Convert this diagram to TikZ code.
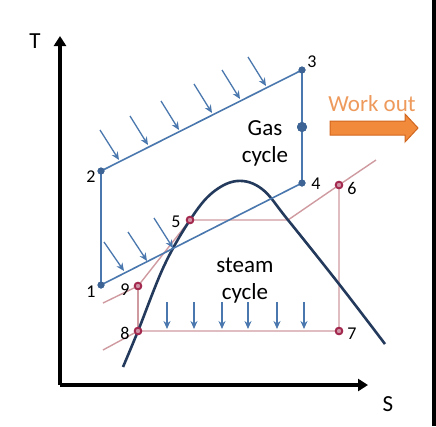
\documentclass[tikz,border=0pt]{standalone}
\usepackage{fontspec}
\setmainfont{Carlito}
\usetikzlibrary{arrows.meta}
\definecolor{gasblue}{HTML}{4A78AE}
\definecolor{gasdot}{HTML}{3D6494}
\definecolor{steampink}{HTML}{CF9AA0}
\definecolor{steamdot}{HTML}{A3294F}
\definecolor{domenavy}{HTML}{243A5C}
\definecolor{workorange}{HTML}{F28A3C}
\definecolor{workedge}{HTML}{D0661E}
\definecolor{worktext}{HTML}{EE9A5C}
\tikzset{
  gasline/.style={gasblue, line width=1.6pt},
  gasarrow/.style={gasblue, line width=1.3pt, -{Stealth[length=8pt,width=7pt]}},
  steamline/.style={steampink, line width=1.4pt},
  gasdotst/.style={circle, fill=gasdot, inner sep=0pt, minimum size=7pt},
  bigdot/.style={circle, fill=gasdot, inner sep=0pt, minimum size=10pt},
  steamdotst/.style={circle, draw=steamdot, fill=steamdot!50!white, line width=1.8pt, inner sep=0pt, minimum size=6.5pt},
  numlab/.style={font=\fontsize{18}{18}\selectfont, text=black, inner sep=1pt},
  biglab/.style={font=\fontsize{23}{27}\selectfont, text=black, align=center},
  axis/.style={black, line width=3.2pt, -{Triangle[length=10pt,width=12pt]}},
}
\begin{document}
\begin{tikzpicture}[x=1pt,y=-1pt]
\useasboundingbox (0,0) rectangle (436,426);
\fill[white] (0,0) rectangle (432,426);
\fill[black] (432,0) rectangle (436,426);
% axes
\coordinate (O) at (60,385);
\coordinate (Ttip) at (60,36);
\coordinate (Stip) at (368,385);
\draw[axis] (O) -- (Ttip);
\draw[axis] (O) -- (Stip);
\node[font=\fontsize{23}{23}\selectfont] (T) at (35,41) {T};
\node[font=\fontsize{23}{23}\selectfont] (S) at (388,404) {S};
% gas cycle points
\node[gasdotst] (p1) at (101,285) {};
\node[gasdotst] (p2) at (101,171) {};
\node[gasdotst] (p3) at (302,70) {};
\node[gasdotst] (p4) at (302,183) {};
\node[bigdot] (pm) at (302,127) {};
% steam points
\coordinate (s8a) at (103,350);
\coordinate (s9a) at (103,303);
\coordinate (s6b) at (376,160);
\coordinate (s5b) at (288,220);
\node[steamdotst] (p8) at (138,331) {};
\node[steamdotst] (p9) at (138,286) {};
\node[steamdotst] (p5) at (190,220) {};
\node[steamdotst] (p6) at (339,185) {};
\node[steamdotst] (p7) at (339,331) {};
% steam lines
\draw[steamline] (s8a) -- (p8.center) -- (p7.center) -- (p6.center) -- (s6b);
\draw[steamline] (p6.center) -- (s5b) -- (p5.center) -- (p9.center) -- (s9a);
\draw[steamline] (p9.center) -- (p8.center);
% dome
\draw[domenavy, line width=2.6pt] plot[smooth, tension=0.6] coordinates {
  (123,367) (138,331) (164,266) (190,220) (212,193) (237,181) (262,189) (288,220) (339,284) (385,344)};
% gas lines
\draw[gasline] (p1.center) -- (p2.center) -- (p3.center) -- (p4.center) -- (p1.center);
% heat-in arrows on top line
\foreach \xa/\ya/\xb/\yb [count=\i] in {100/130/119/160, 130/116/148/145, 161/101/179/130, 194/84/212/113, 222/70/240/99, 248/57/266/86}{
  \coordinate (ha\i) at (\xa,\ya); \coordinate (hb\i) at (\xb,\yb);
  \draw[gasarrow] (ha\i) -- (hb\i);
}
\foreach \xa/\ya/\xb/\yb [count=\i] in {104/242/124/271, 128/232/147/261, 154/218/173/248}{
  \coordinate (la\i) at (\xa,\ya); \coordinate (lb\i) at (\xb,\yb);
  \draw[gasarrow] (la\i) -- (lb\i);
}
% heat-out arrows of steam cycle
\foreach \x [count=\i] in {167,194,222,248,277,304}{
  \coordinate (ca\i) at (\x,302); \coordinate (cb\i) at (\x,329);
  \draw[gasarrow] (ca\i) -- (cb\i);
}
% redraw dots on top
\foreach \n in {p1,p2,p3,p4}{\node[gasdotst] at (\n) {};}
\node[bigdot] at (pm) {};
\foreach \n in {p5,p6,p7,p8,p9}{\node[steamdotst] at (\n) {};}
% labels
\node[numlab] (l1) at (91,292) {1};
\node[numlab] (l2) at (91,177) {2};
\node[numlab] (l3) at (312,62) {3};
\node[numlab] (l4) at (316,184) {4};
\node[numlab] (l5) at (176,222) {5};
\node[numlab] (l6) at (352,188) {6};
\node[numlab] (l7) at (352,334) {7};
\node[numlab] (l8) at (125,333) {8};
\node[numlab] (l9) at (125,290) {9};
\node[biglab] (gas) at (265,143) {Gas\\cycle};
\node[biglab] (steam) at (245,281) {steam\\cycle};
\node[font=\fontsize{23}{23}\selectfont, text=worktext] (work) at (372,104) {Work out};
% work out block arrow
\coordinate (wa) at (330,121);
\fill[workorange, draw=workedge, line width=1pt, line join=miter]
  (wa) -- (405,121) -- (405,114) -- (418,128) -- (405,142) -- (405,135) -- (330,135) -- cycle;
\end{tikzpicture}
\end{document}
